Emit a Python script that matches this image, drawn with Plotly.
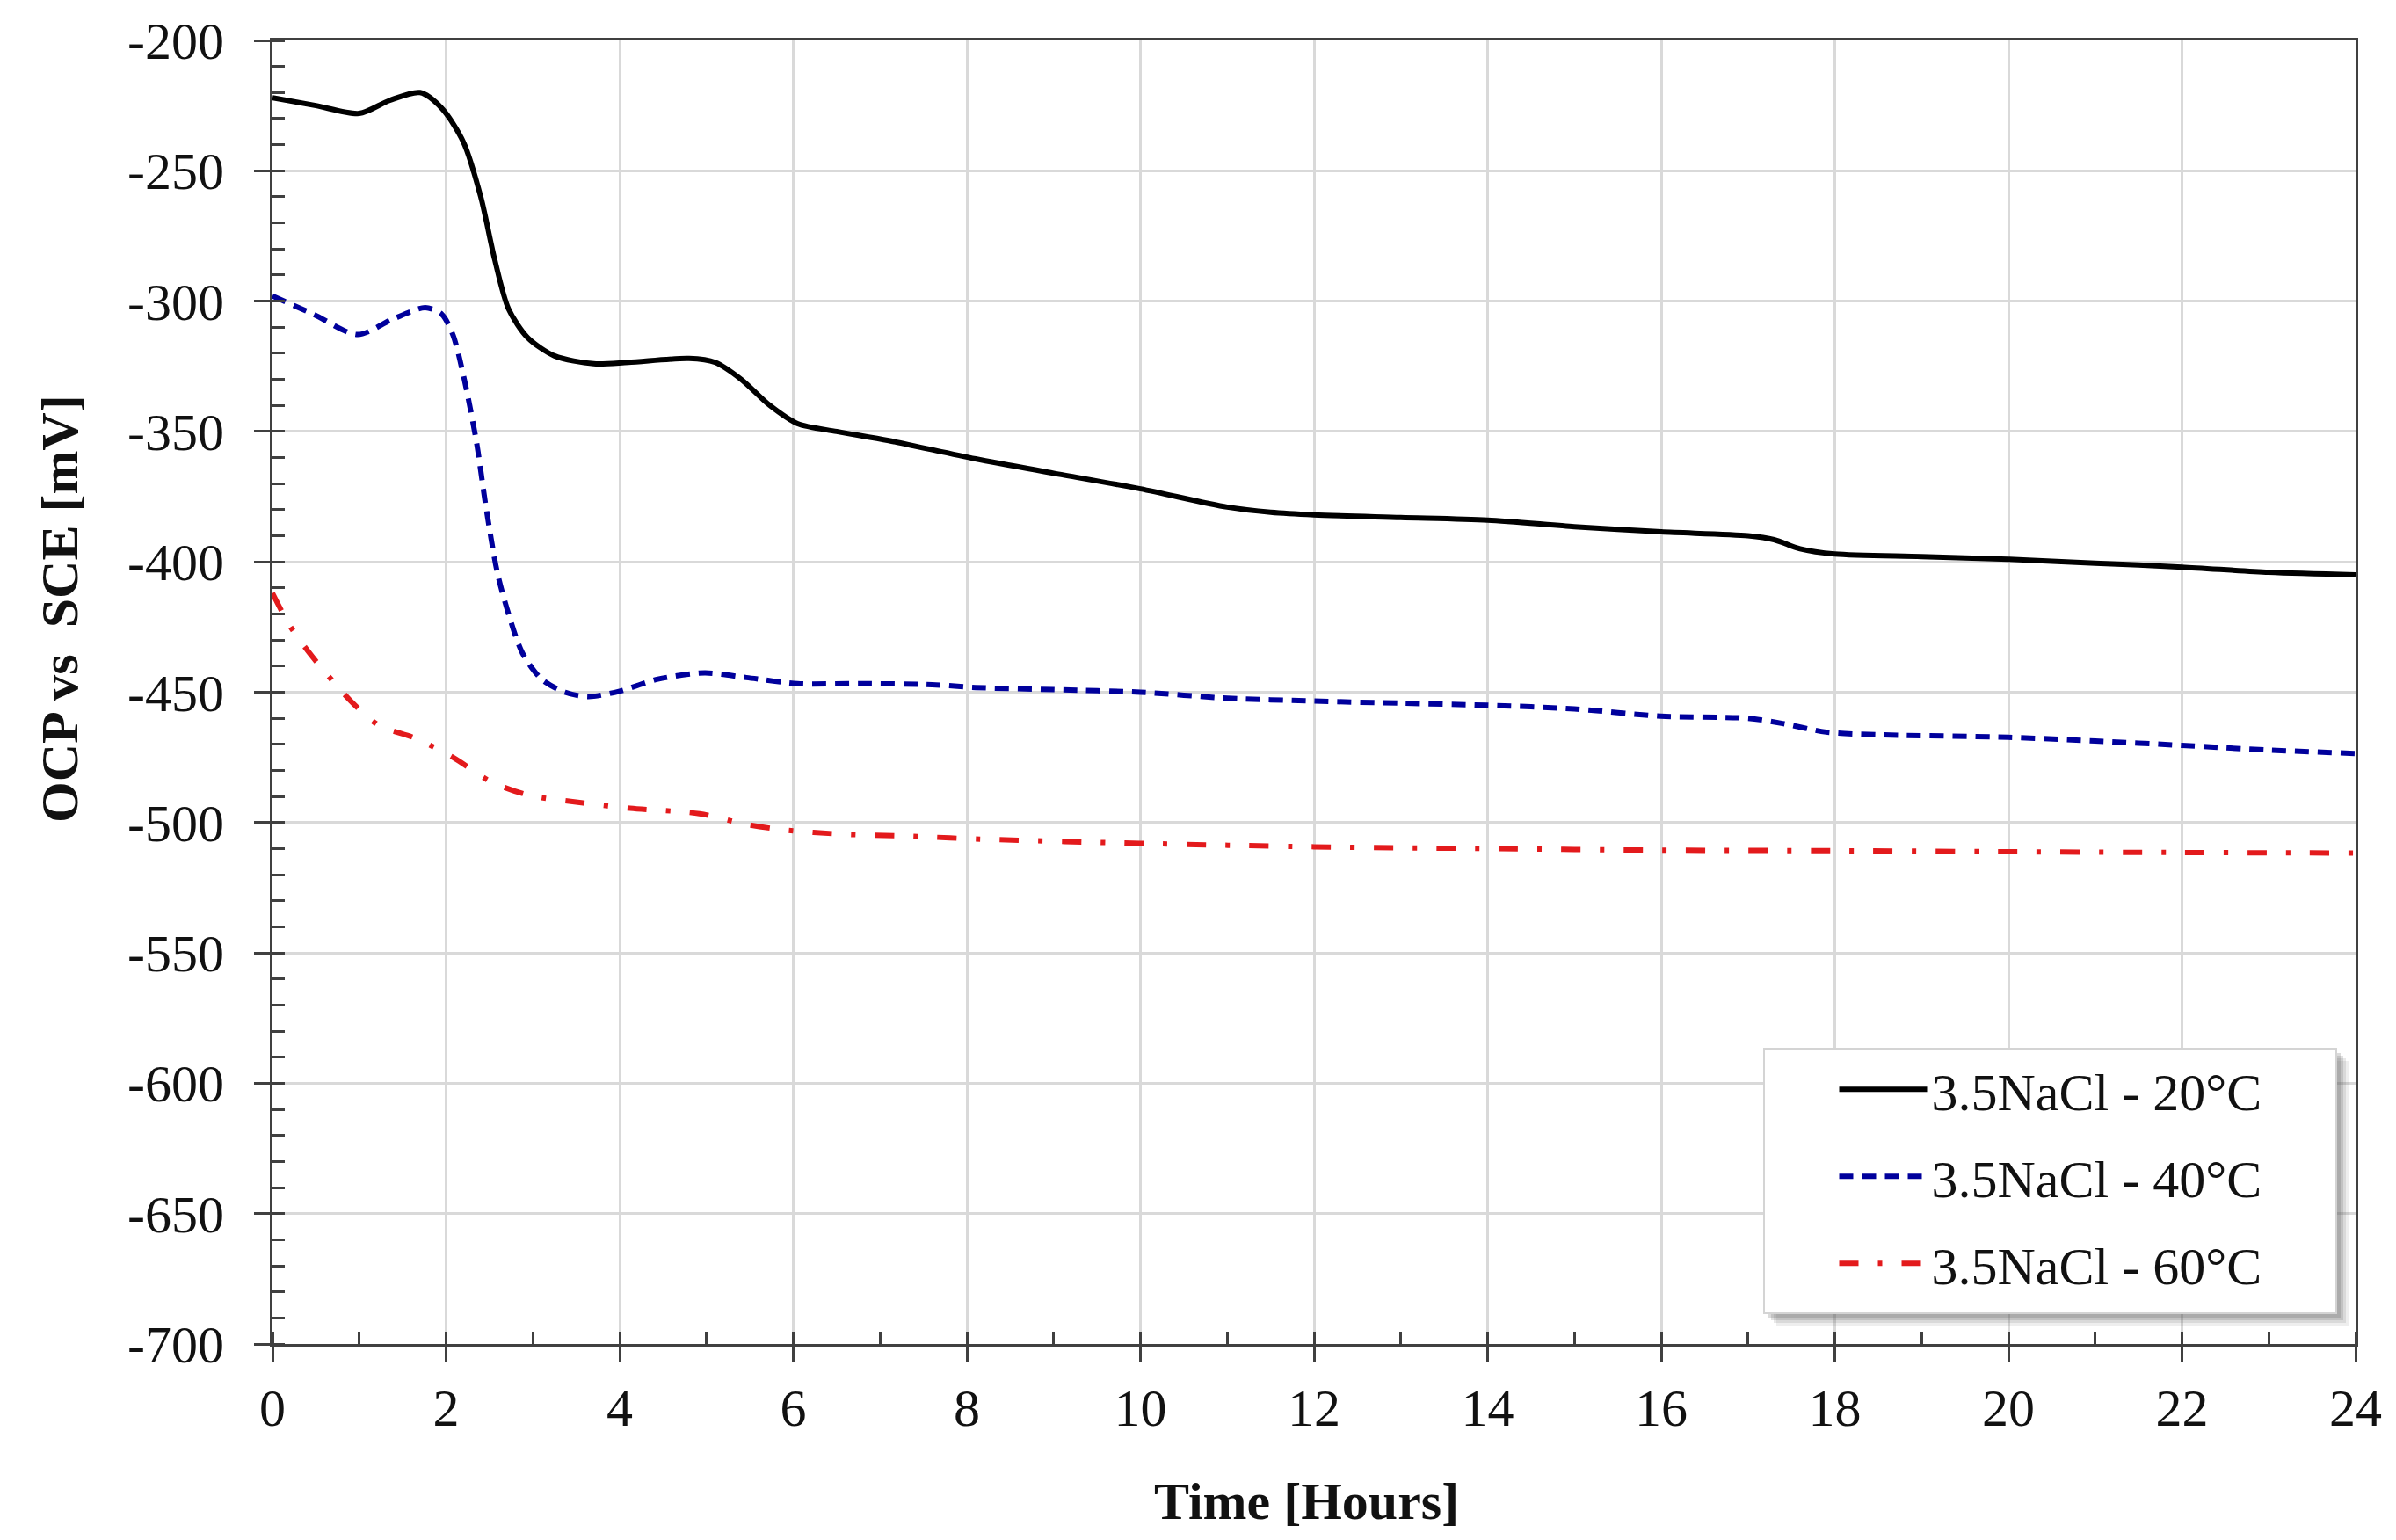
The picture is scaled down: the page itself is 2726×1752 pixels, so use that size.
import plotly.graph_objects as go

# ---------------- data ----------------
t_20 = [0, 0.5, 1.0, 1.35, 1.7, 1.95, 2.2, 2.4, 2.56, 2.72, 2.94, 3.25, 3.7, 4.1, 4.8, 5.1, 5.4, 5.73,
        6.05, 6.5, 7.1, 8.1, 9.0, 10.0, 11.0, 11.5, 12.0, 13.0, 14.0, 15.0, 16.0, 17.0, 17.3, 17.6,
        18.0, 19.0, 20.0, 21.0, 22.0, 23.0, 24.0]
ocp_20 = [-222, -225, -228, -223, -220, -226, -239, -260, -284, -303, -314, -321, -324, -323.5, -322,
          -323.5, -330, -340, -347, -350, -353.5, -360.5, -366, -372, -379, -381, -382, -383, -384,
          -386.5, -388.5, -390, -391.5, -395, -397, -398, -399, -400.5, -402, -404, -405]

t_40 = [0, 0.47, 0.98, 1.38, 1.76, 1.95, 2.08, 2.21, 2.35, 2.46, 2.59, 2.72, 2.88, 3.1, 3.37, 3.64,
        4.0, 4.44, 4.98, 5.46, 6.05, 6.8, 7.6, 8.1, 9.0, 10.0, 11.0, 12.0, 13.0, 14.0, 15.0, 16.0,
        17.0, 17.4, 17.9, 18.5, 20.0, 21.0, 22.0, 23.0, 24.0]
ocp_40 = [-298, -305, -312.8, -307, -302.5, -305, -313, -330, -354, -379, -404, -420, -435, -445, -450,
          -451.7, -449.6, -445, -442.6, -444.4, -446.7, -446.7, -447.1, -448.2, -449, -450, -452.3,
          -453.4, -454.2, -455, -456.4, -459.2, -460, -462, -465.3, -466.3, -467.3, -468.7, -470.4,
          -472.2, -473.5]

t_60 = [0, 0.2, 0.47, 0.9, 1.22, 1.65, 2.08, 2.51, 2.94, 3.58, 4.12, 4.92, 5.46, 5.89, 6.53, 7.33,
        8.1, 10.0, 12.0, 14.0, 16.0, 18.0, 20.0, 22.0, 24.0]
ocp_60 = [-412, -424.5, -436.8, -453.3, -462.6, -467.7, -475, -484.2, -489.4, -492.5, -494.5, -496.6,
          -500.7, -502.8, -504.4, -505.2, -506.3, -508, -509.3, -510, -510.6, -510.8, -511.2, -511.5,
          -511.7]

series_names = ["3.5NaCl - 20°C", "3.5NaCl - 40°C", "3.5NaCl - 60°C"]
x_tick_vals = [0, 2, 4, 6, 8, 10, 12, 14, 16, 18, 20, 22, 24]
y_tick_vals = [-200, -250, -300, -350, -400, -450, -500, -550, -600, -650, -700]
y_tick_text = ["-200", "-250", "-300", "-350", "-400", "-450", "-500", "-550", "-600", "-650", "-700"]
x_title = "Time [Hours]"
y_title = "OCP vs  SCE [mV]"

# ---------------- figure ----------------
W, H = 2726, 1752
ML, MR, MT, MB = 302, 54, 38, 231
FONT = "Liberation Serif, Times New Roman, serif"
TXT = "#111111"

fig = go.Figure()
fig.add_trace(go.Scatter(x=t_20, y=ocp_20, name=series_names[0], mode="lines", legendgroup="a",
                         line=dict(color="#000000", width=6, shape="spline", smoothing=0.8)))
fig.add_trace(go.Scatter(x=t_40, y=ocp_40, name=series_names[1], mode="lines", legendgroup="b",
                         line=dict(color="#00009c", width=6, shape="spline", smoothing=0.8,
                                   dash="16px,10px")))
fig.add_trace(go.Scatter(x=t_60, y=ocp_60, name=series_names[2], mode="lines", legendgroup="c",
                         line=dict(color="#e31a1c", width=6, shape="spline", smoothing=0.8,
                                   dash="22px,22px,5px,22px")))

axis_line = "#404040"
grid = "#d9d9d9"

fig.update_layout(
    width=W, height=H,
    margin=dict(l=ML, r=MR, t=MT, b=MB, autoexpand=False),
    paper_bgcolor="white", plot_bgcolor="white",
    font=dict(family=FONT, size=60, color=TXT),
    showlegend=True,
    legend=dict(
        x=0.750, y=0.226, xanchor="left", yanchor="top",
        bgcolor="rgba(0,0,0,0)", borderwidth=0,
        font=dict(family=FONT, size=60, color=TXT),
        itemwidth=100, traceorder="grouped", tracegroupgap=18,
    ),
    xaxis=dict(
        range=[0, 24], tickmode="array", tickvals=x_tick_vals,
        showgrid=True, gridcolor=grid, gridwidth=3,
        showline=True, linecolor=axis_line, linewidth=3, mirror=True,
        ticks="outside", ticklen=18, tickwidth=3, tickcolor=axis_line,
        minor=dict(ticks="inside", dtick=1, tick0=0, ticklen=14, tickwidth=3, tickcolor=axis_line,
                   showgrid=False),
        ticklabelstandoff=0, zeroline=False,
    ),
    yaxis=dict(
        range=[-700, -200], tickmode="array", tickvals=y_tick_vals, ticktext=y_tick_text,
        showgrid=True, gridcolor=grid, gridwidth=3,
        showline=True, linecolor=axis_line, linewidth=3, mirror=True,
        ticks="outside", ticklen=18, tickwidth=3, tickcolor=axis_line,
        minor=dict(ticks="inside", dtick=10, tick0=-700, ticklen=14, tickwidth=3, tickcolor=axis_line,
                   showgrid=False),
        ticklabelstandoff=22, zeroline=False,
    ),
    # overlay axes: inside part of the crossing major ticks
    xaxis2=dict(overlaying="x", anchor="y", range=[0, 24], tickmode="array", tickvals=x_tick_vals,
                ticks="inside", ticklen=14, tickwidth=3, tickcolor=axis_line, showticklabels=False,
                showgrid=False, showline=False, zeroline=False, side="bottom"),
    yaxis2=dict(overlaying="y", anchor="x", range=[-700, -200], tickmode="array", tickvals=y_tick_vals,
                ticks="inside", ticklen=14, tickwidth=3, tickcolor=axis_line, showticklabels=False,
                showgrid=False, showline=False, zeroline=False, side="left"),
)

def px_to_paper_x(px):
    return (px - ML) / (W - ML - MR)

def px_to_paper_y(py):
    return (H - MB - py) / (H - MT - MB)

# axis titles
fig.add_annotation(text="<b>" + x_title + "</b>", xref="paper", yref="paper",
                   x=px_to_paper_x(1478), y=px_to_paper_y(1700), xanchor="center", yanchor="middle",
                   showarrow=False, font=dict(family=FONT, size=60, color=TXT))
fig.add_annotation(text="<b>" + y_title + "</b>", xref="paper", yref="paper", textangle=-90,
                   x=px_to_paper_x(60), y=px_to_paper_y(685), xanchor="center", yanchor="middle",
                   showarrow=False, font=dict(family=FONT, size=60, color=TXT))

# legend box with soft shadow
bx0, bx1, by0, by1 = 1999, 2650, 1185, 1486
for off, op in [(14, 0.10), (11, 0.14), (8, 0.18), (5, 0.22)]:
    fig.add_shape(type="rect", xref="paper", yref="paper", layer="above",
                  x0=px_to_paper_x(bx0 + off), x1=px_to_paper_x(bx1 + off),
                  y0=px_to_paper_y(by1 + off), y1=px_to_paper_y(by0 + off),
                  line=dict(width=0), fillcolor="rgba(90,90,90,%.2f)" % op)
fig.add_shape(type="rect", xref="paper", yref="paper", layer="above",
              x0=px_to_paper_x(bx0), x1=px_to_paper_x(bx1),
              y0=px_to_paper_y(by1), y1=px_to_paper_y(by0),
              line=dict(width=2, color="#d4d4d4"), fillcolor="white")

fig.write_html("out.html")
